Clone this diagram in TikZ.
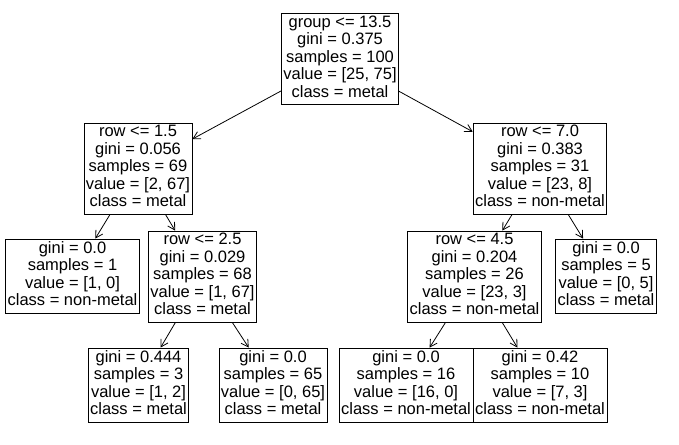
\documentclass[tikz,border=0pt]{standalone}
\usepackage{fontspec}
\setmainfont{Liberation Sans}
\usetikzlibrary{arrows.meta, positioning}

\begin{document}
\begin{tikzpicture}[
  x=1pt, y=-1pt,
  >={Straight Barb[length=7pt, width=8pt]},
  every node/.style={font=\fontsize{16.5}{17.5}\selectfont},
  splitbox/.style={draw, line width=0.8pt, align=center,
                   inner xsep=2pt, inner ysep=0pt, minimum height=91pt,
                   execute at begin node=\strut, execute at end node=\strut},
  leafbox/.style={splitbox, minimum height=74pt},
  arrowline/.style={->, line width=0.8pt}
]
\useasboundingbox (0,0) rectangle (679,444);

%% ── ROOT ────────────────────────────────────────────────────────
\node[splitbox] (root) at (340,59)
  {group <= 13.5\\gini = 0.375\\samples = 100\\value = [25, 75]\\class = metal};

%% ── DEPTH 1 ─────────────────────────────────────────────────────
\node[splitbox] (rowA) at (138,168.5)
  {row <= 1.5\\gini = 0.056\\samples = 69\\value = [2, 67]\\class = metal};
\node[splitbox] (rowB) at (540,168.5)
  {row <= 7.0\\gini = 0.383\\samples = 31\\value = [23, 8]\\class = non-metal};

%% ── DEPTH 2 ─────────────────────────────────────────────────────
\node[leafbox] (leafA) at (72.5,276)
  {gini = 0.0\\samples = 1\\value = [1, 0]\\class = non-metal};
\node[splitbox] (rowC) at (202.5,276.5)
  {row <= 2.5\\gini = 0.029\\samples = 68\\value = [1, 67]\\class = metal};
\node[splitbox] (rowD) at (474.5,276.5)
  {row <= 4.5\\gini = 0.204\\samples = 26\\value = [23, 3]\\class = non-metal};
\node[leafbox] (leafB) at (606,276)
  {gini = 0.0\\samples = 5\\value = [0, 5]\\class = metal};

%% ── DEPTH 3 ─────────────────────────────────────────────────────
\node[leafbox] (leafC) at (138.5,385)
  {gini = 0.444\\samples = 3\\value = [1, 2]\\class = metal};
\node[leafbox] (leafD) at (273,385)
  {gini = 0.0\\samples = 65\\value = [0, 65]\\class = metal};
\node[leafbox, minimum width=134pt] (leafE) at (406,385)
  {gini = 0.0\\samples = 16\\value = [16, 0]\\class = non-metal};
\node[leafbox, minimum width=134pt] (leafF) at (540,385)
  {gini = 0.42\\samples = 10\\value = [7, 3]\\class = non-metal};

%% ── EDGES ───────────────────────────────────────────────────────
\draw[arrowline] (root) -- (rowA);
\draw[arrowline] (root) -- (rowB);
\draw[arrowline] (rowA) -- (leafA);
\draw[arrowline] (rowA) -- (rowC);
\draw[arrowline] (rowC) -- (leafC);
\draw[arrowline] (rowC) -- (leafD);
\draw[arrowline] (rowB) -- (rowD);
\draw[arrowline] (rowB) -- (leafB);
\draw[arrowline] (rowD) -- (leafE);
\draw[arrowline] (rowD) -- (leafF);

\end{tikzpicture}
\end{document}
